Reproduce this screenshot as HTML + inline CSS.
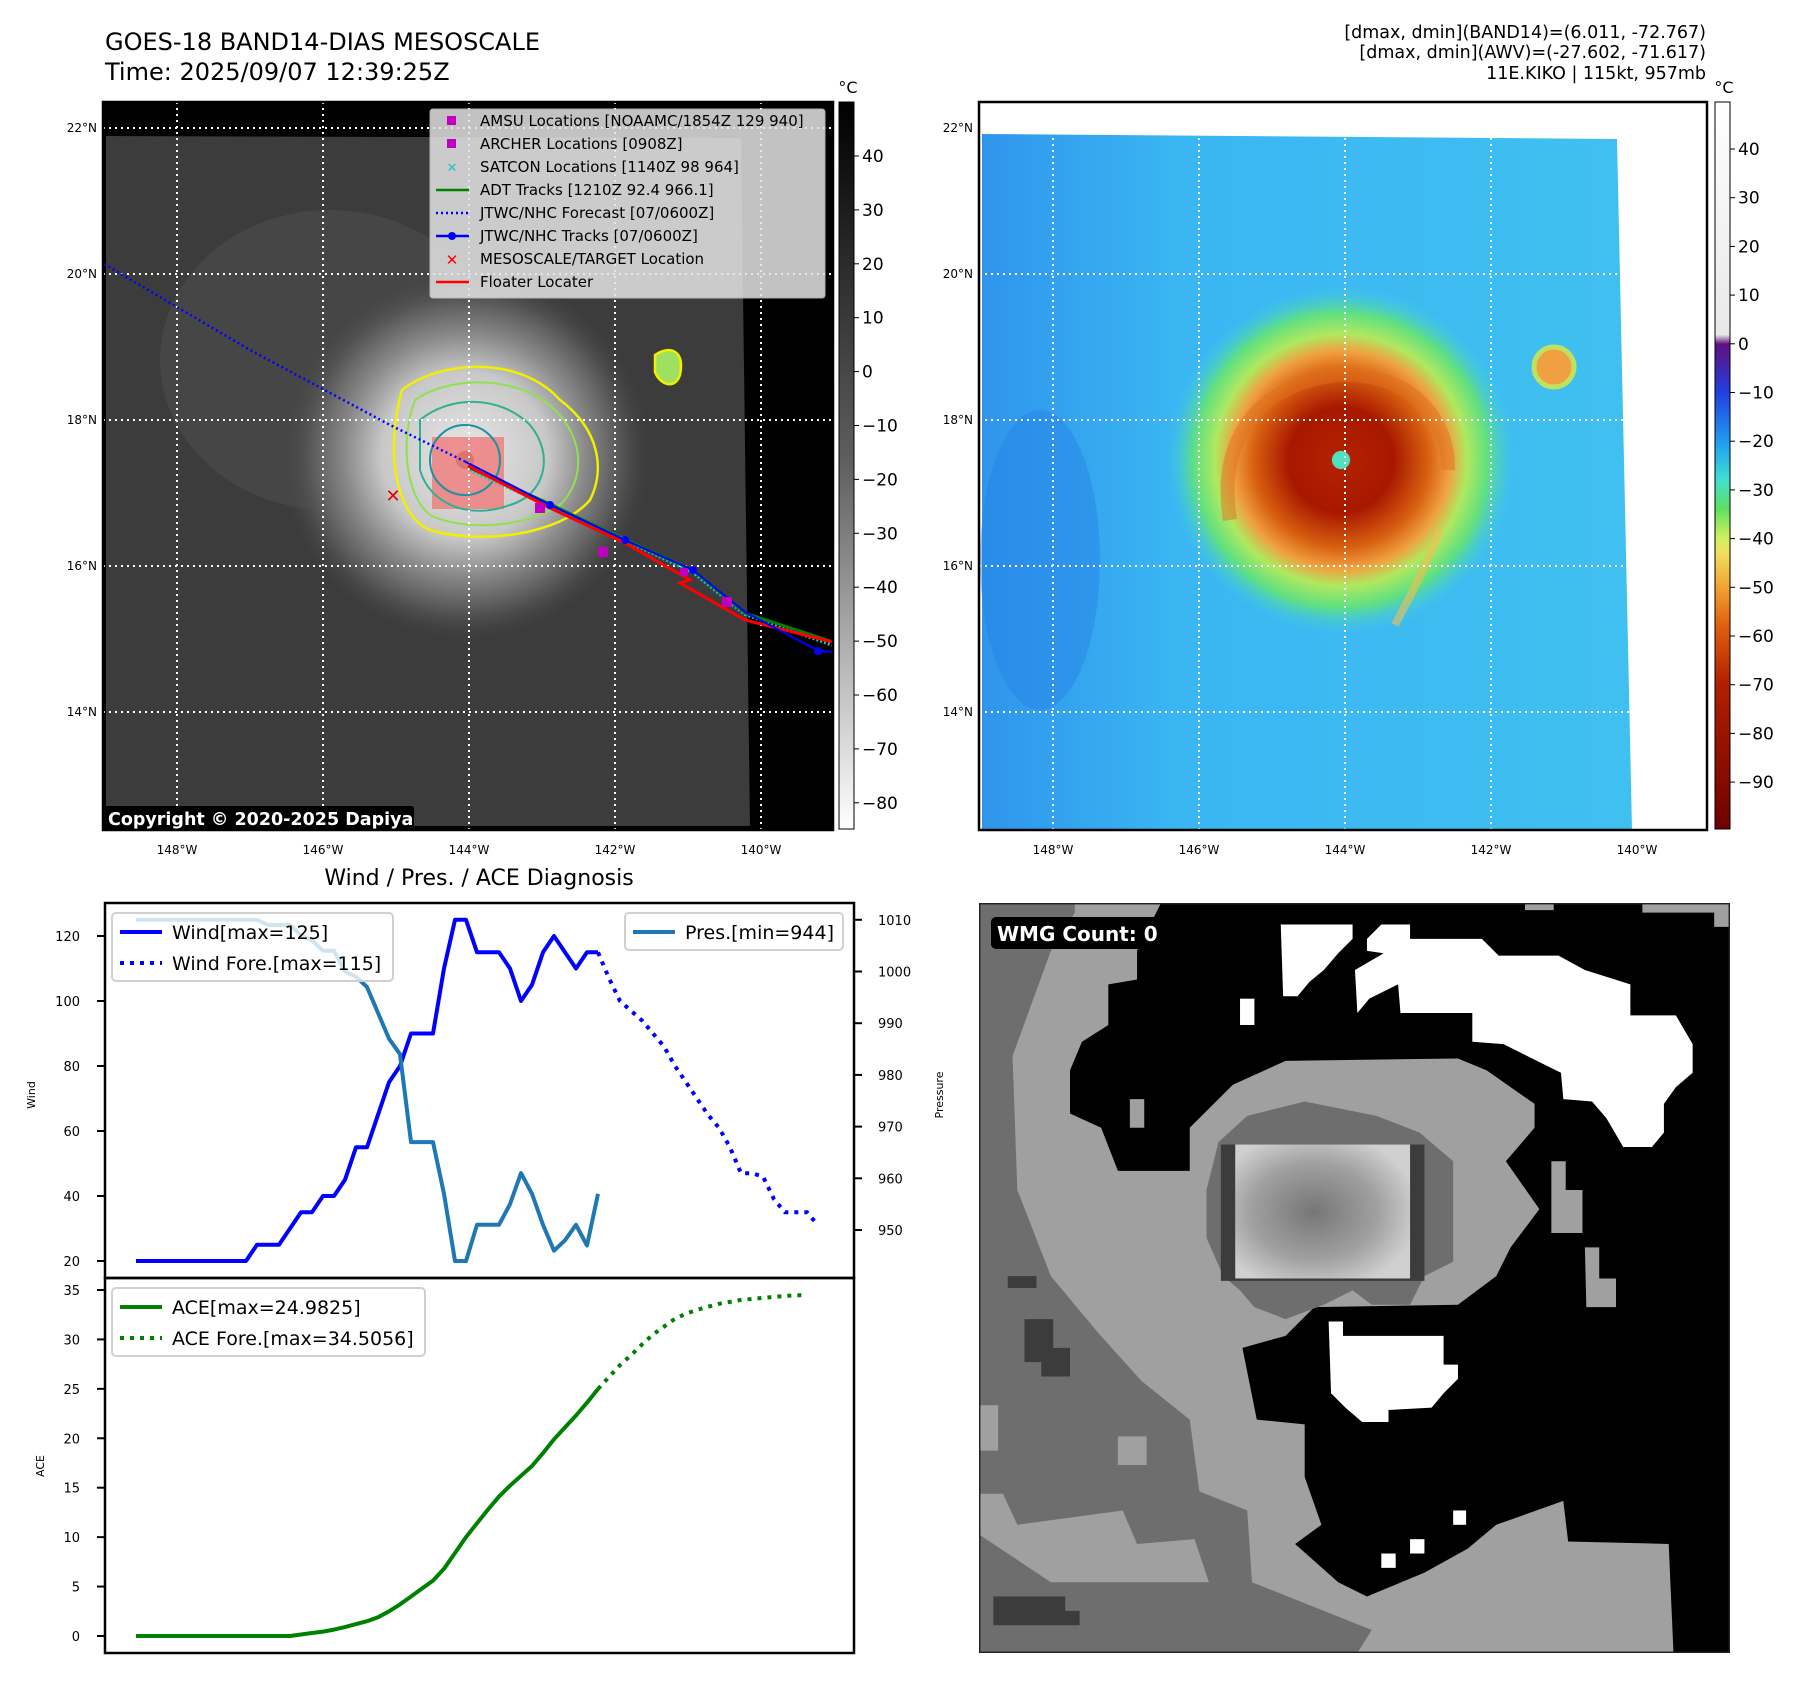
<!DOCTYPE html>
<html><head><meta charset="utf-8">
<style>
html,body{margin:0;padding:0;background:#fff;}
svg{display:block;font-family:"DejaVu Sans","Liberation Sans",sans-serif;}
</style></head>
<body>
<svg id="root" width="1797" height="1690" viewBox="0 0 1797 1690" xmlns="http://www.w3.org/2000/svg">
<defs>
  <radialGradient id="irStorm" cx="465" cy="455" r="185" gradientUnits="userSpaceOnUse">
    <stop offset="0" stop-color="#eeeeee"/>
    <stop offset="0.1" stop-color="#e0e0e0"/>
    <stop offset="0.45" stop-color="#c8c8c8"/>
    <stop offset="0.65" stop-color="#8a8a8a"/>
    <stop offset="0.85" stop-color="#555"/>
    <stop offset="1" stop-color="#444" stop-opacity="0"/>
  </radialGradient>
  <radialGradient id="awvStorm" cx="1341" cy="460" r="175" gradientUnits="userSpaceOnUse">
    <stop offset="0" stop-color="#50e0c0"/>
    <stop offset="0.06" stop-color="#b02000"/>
    <stop offset="0.3" stop-color="#a81800"/>
    <stop offset="0.5" stop-color="#d86010"/>
    <stop offset="0.62" stop-color="#f0a040"/>
    <stop offset="0.72" stop-color="#b0e860"/>
    <stop offset="0.84" stop-color="#60e080"/>
    <stop offset="1" stop-color="#40c8f0" stop-opacity="0"/>
  </radialGradient>
  <linearGradient id="awvBg" x1="0" y1="0" x2="1" y2="0">
    <stop offset="0" stop-color="#2f95ec"/>
    <stop offset="0.3" stop-color="#3ab6f2"/>
    <stop offset="1" stop-color="#40c0f0"/>
  </linearGradient>
  <linearGradient id="cbGray" x1="0" y1="0" x2="0" y2="1">
    <stop offset="0" stop-color="#000"/>
    <stop offset="0.5" stop-color="#606060"/>
    <stop offset="1" stop-color="#fff"/>
  </linearGradient>
  <linearGradient id="cbAwv" x1="0" y1="0" x2="0" y2="1">
    <stop offset="0" stop-color="#ffffff"/>
    <stop offset="0.32" stop-color="#e8e8e8"/>
    <stop offset="0.333" stop-color="#601080"/>
    <stop offset="0.4" stop-color="#2040e0"/>
    <stop offset="0.47" stop-color="#20a0f0"/>
    <stop offset="0.52" stop-color="#40e0d0"/>
    <stop offset="0.56" stop-color="#60e060"/>
    <stop offset="0.6" stop-color="#d0f060"/>
    <stop offset="0.62" stop-color="#f0e060"/>
    <stop offset="0.67" stop-color="#f0a030"/>
    <stop offset="0.72" stop-color="#e06010"/>
    <stop offset="0.8" stop-color="#b02000"/>
    <stop offset="1" stop-color="#700000"/>
  </linearGradient>
  <radialGradient id="wmgCore" cx="0.45" cy="0.5" r="0.6">
    <stop offset="0" stop-color="#767676"/>
    <stop offset="0.6" stop-color="#a0a0a0"/>
    <stop offset="1" stop-color="#d0d0d0"/>
  </radialGradient>
  <clipPath id="clipL"><rect x="103" y="102" width="730" height="728"/></clipPath>
  <clipPath id="clipR"><rect x="979" y="102" width="728" height="728"/></clipPath>
</defs>

<!-- titles -->
<text x="105" y="50" font-size="24">GOES-18 BAND14-DIAS MESOSCALE</text>
<text x="105" y="80" font-size="24">Time: 2025/09/07 12:39:25Z</text>
<g font-size="17.5" text-anchor="end">
  <text x="1706" y="38">[dmax, dmin](BAND14)=(6.011, -72.767)</text>
  <text x="1706" y="58">[dmax, dmin](AWV)=(-27.602, -71.617)</text>
  <text x="1706" y="79">11E.KIKO | 115kt, 957mb</text>
</g>

<!-- LEFT IR MAP -->
<g clip-path="url(#clipL)">
  <rect x="103" y="102" width="730" height="728" fill="#000"/>
  <polygon points="106,136 741,138 750,826 106,826" fill="#3c3c3c"/>
  <ellipse cx="330" cy="360" rx="170" ry="150" fill="#4c4c4c" opacity="0.6"/>
  <circle cx="465" cy="455" r="185" fill="url(#irStorm)"/>
  <circle cx="465" cy="460" r="9" fill="#7a3020"/>
  <rect x="432" y="437" width="72" height="72" fill="#f08080" opacity="0.85"/>
  <path d="M402,390 C440,360 520,355 560,400 C600,430 605,470 590,500 C560,535 480,545 430,530 C395,515 385,450 402,390 Z" fill="none" stroke="#f0f000" stroke-width="2.5"/>
  <path d="M415,400 C450,375 520,375 555,410 C585,440 585,480 560,505 C520,530 460,530 430,515 C405,495 400,440 415,400 Z" fill="none" stroke="#90e050" stroke-width="2" />
  <path d="M420,420 C450,395 500,395 530,425 C555,455 545,495 510,505 C470,520 430,505 420,470 Z" fill="none" stroke="#30b090" stroke-width="2"/>
  <circle cx="465" cy="460" r="35" fill="none" stroke="#2090a0" stroke-width="2"/>
  <path d="M655,355 C670,345 685,350 680,375 C675,390 660,385 655,372 Z" fill="#a0e060" stroke="#f0f000" stroke-width="2.5"/>
  <g stroke="#fff" stroke-width="2" stroke-dasharray="2,4">
    <line x1="177" y1="102" x2="177" y2="830"/><line x1="323" y1="102" x2="323" y2="830"/>
    <line x1="469" y1="102" x2="469" y2="830"/><line x1="615" y1="102" x2="615" y2="830"/>
    <line x1="761" y1="102" x2="761" y2="830"/>
    <line x1="103" y1="128" x2="833" y2="128"/><line x1="103" y1="274" x2="833" y2="274"/>
    <line x1="103" y1="420" x2="833" y2="420"/><line x1="103" y1="566" x2="833" y2="566"/>
    <line x1="103" y1="712" x2="833" y2="712"/>
  </g>
  <polyline points="104,264 250,350 390,425 464,461" fill="none" stroke="#0000ff" stroke-width="2.5" stroke-dasharray="2,3"/>
  <polyline points="470,470 550,506 625,540 693,572 745,614 833,645" fill="none" stroke="#20c0c0" stroke-width="4" stroke-dasharray="2,2"/>
  <polyline points="470,468 550,504 625,540 693,570 745,613 833,642" fill="none" stroke="#008000" stroke-width="3"/>
  <polyline points="468,466 550,508 625,543 690,580 680,583 745,620 833,642" fill="none" stroke="#ff0000" stroke-width="3"/>
  <polyline points="464,461 550,505 625,540 693,570 745,612 819,651 833,652" fill="none" stroke="#0000ff" stroke-width="2"/>
  <g fill="#0000ff"><circle cx="550" cy="505" r="4"/><circle cx="625" cy="540" r="4"/><circle cx="693" cy="570" r="4"/><circle cx="818" cy="651" r="4"/></g>
  <g fill="#c000c0"><rect x="598" y="547" width="10" height="10"/><rect x="535" y="503" width="10" height="10"/><rect x="722" y="597" width="10" height="10"/><rect x="680" y="568" width="8" height="8"/></g>
  <text x="393" y="502" fill="#e00000" font-size="18" font-weight="bold" text-anchor="middle">✕</text>
  <rect x="103" y="806" width="311" height="25" rx="3" fill="#000"/>
  <text x="108" y="825" fill="#fff" font-size="17.5" font-weight="bold">Copyright © 2020-2025 Dapiya</text>
</g>
<rect x="103" y="102" width="730" height="728" fill="none" stroke="#000" stroke-width="2.5"/>

<!-- IR legend -->
<g>
  <rect x="430" y="109" width="395" height="189" rx="3" fill="#e4e4e4" opacity="0.85" stroke="#ccc"/>
  <g font-size="15">
    <rect x="447" y="116" width="9" height="9" fill="#c000c0"/><text x="480" y="126">AMSU Locations [NOAAMC/1854Z 129 940]</text>
    <rect x="447" y="139" width="9" height="9" fill="#c000c0"/><text x="480" y="149">ARCHER Locations [0908Z]</text>
    <text x="452" y="172" fill="#20c0c0" font-size="13" font-weight="bold" text-anchor="middle">✕</text><text x="480" y="172">SATCON Locations [1140Z 98 964]</text>
    <line x1="436" y1="190" x2="469" y2="190" stroke="#008000" stroke-width="2.5"/><text x="480" y="195">ADT Tracks [1210Z 92.4 966.1]</text>
    <line x1="436" y1="213" x2="469" y2="213" stroke="#0000ff" stroke-width="2.5" stroke-dasharray="2,3"/><text x="480" y="218">JTWC/NHC Forecast [07/0600Z]</text>
    <line x1="436" y1="236" x2="469" y2="236" stroke="#0000ff" stroke-width="2.5"/><circle cx="452" cy="236" r="4" fill="#0000ff"/><text x="480" y="241">JTWC/NHC Tracks [07/0600Z]</text>
    <text x="452" y="265" fill="#ff0000" font-size="15" font-weight="bold" text-anchor="middle">✕</text><text x="480" y="264">MESOSCALE/TARGET Location</text>
    <line x1="436" y1="282" x2="469" y2="282" stroke="#ff0000" stroke-width="2.5"/><text x="480" y="287">Floater Locater</text>
  </g>
</g>

<!-- IR axis labels -->
<g font-size="12" text-anchor="end">
  <text x="97" y="132">22°N</text><text x="97" y="278">20°N</text><text x="97" y="424">18°N</text><text x="97" y="570">16°N</text><text x="97" y="716">14°N</text>
</g>
<g font-size="12" text-anchor="middle">
  <text x="177" y="854">148°W</text><text x="323" y="854">146°W</text><text x="469" y="854">144°W</text><text x="615" y="854">142°W</text><text x="761" y="854">140°W</text>
</g>
<g>
  <rect x="839" y="102" width="15" height="727" fill="url(#cbGray)" stroke="#000" stroke-width="1"/>
  <text x="848" y="93" font-size="16" text-anchor="middle">°C</text>
  <g font-size="17" id="cbLticks"></g>
</g>

<!-- RIGHT AWV MAP -->
<g clip-path="url(#clipR)">
  <rect x="979" y="102" width="728" height="728" fill="#fff"/>
  <polygon points="982,134 1617,139 1632,830 982,830" fill="url(#awvBg)"/>
  <ellipse cx="1040" cy="560" rx="60" ry="150" fill="#2580e6" opacity="0.45"/>
  <circle cx="1341" cy="460" r="175" fill="url(#awvStorm)"/>
  <path d="M1230,520 C1215,430 1270,380 1341,375 C1410,372 1450,420 1448,470" fill="none" stroke="#e07020" stroke-width="14" opacity="0.5"/>
  <path d="M1440,530 C1420,580 1405,605 1395,625" fill="none" stroke="#f0c050" stroke-width="8" opacity="0.6"/>
  <circle cx="1341" cy="460" r="9" fill="#50e0c0"/>
  <ellipse cx="1554" cy="367" rx="20" ry="20" fill="#f0a040" stroke="#c0e060" stroke-width="5"/>
  <g stroke="#fff" stroke-width="2" stroke-dasharray="2,4">
    <line x1="1053" y1="102" x2="1053" y2="830"/><line x1="1199" y1="102" x2="1199" y2="830"/>
    <line x1="1345" y1="102" x2="1345" y2="830"/><line x1="1491" y1="102" x2="1491" y2="830"/>
    <line x1="1637" y1="102" x2="1637" y2="830"/>
    <line x1="979" y1="128" x2="1707" y2="128"/><line x1="979" y1="274" x2="1707" y2="274"/>
    <line x1="979" y1="420" x2="1707" y2="420"/><line x1="979" y1="566" x2="1707" y2="566"/>
    <line x1="979" y1="712" x2="1707" y2="712"/>
  </g>
</g>
<rect x="979" y="102" width="728" height="728" fill="none" stroke="#000" stroke-width="2.5"/>
<g font-size="12" text-anchor="end">
  <text x="973" y="132">22°N</text><text x="973" y="278">20°N</text><text x="973" y="424">18°N</text><text x="973" y="570">16°N</text><text x="973" y="716">14°N</text>
</g>
<g font-size="12" text-anchor="middle">
  <text x="1053" y="854">148°W</text><text x="1199" y="854">146°W</text><text x="1345" y="854">144°W</text><text x="1491" y="854">142°W</text><text x="1637" y="854">140°W</text>
</g>
<g>
  <rect x="1715" y="102" width="15" height="727" fill="url(#cbAwv)" stroke="#000" stroke-width="1"/>
  <text x="1724" y="93" font-size="16" text-anchor="middle">°C</text>
  <g font-size="17" id="cbRticks"></g>
</g>

<!-- CHART -->
<text x="479" y="885" font-size="22" text-anchor="middle">Wind / Pres. / ACE Diagnosis</text>
<g id="chart"></g>

<!-- WMG -->
<g>
  <svg x="979" y="903" width="751" height="750" viewBox="0 0 1568 1568" preserveAspectRatio="none">
    <rect width="1568" height="1568" fill="#a0a0a0"/>
    <polygon points="0,0 200,0 200,20 150,100 70,320 80,600 150,780 250,900 340,1000 440,1080 460,1230 560,1270 570,1420 820,1520 790,1568 0,1568" fill="#6e6e6e"/>
    <polygon points="0,1050 40,1050 40,1145 0,1145" fill="#a0a0a0"/>
    <polygon points="290,1115 350,1115 350,1175 290,1175" fill="#a0a0a0"/>
    <polygon points="0,1235 50,1235 80,1300 300,1270 330,1340 450,1330 480,1420 270,1420 150,1420 60,1360 0,1320" fill="#a0a0a0"/>
    <polygon points="60,780 120,780 120,805 60,805" fill="#3c3c3c"/>
    <polygon points="95,870 155,870 155,930 190,930 190,990 130,990 130,960 95,960" fill="#3c3c3c"/>
    <polygon points="30,1450 180,1450 180,1480 210,1480 210,1510 30,1510" fill="#3c3c3c"/>
    <polygon points="380,0 1568,0 1568,1568 1450,1568 1440,1340 1230,1335 1220,1250 1080,1300 1020,1350 930,1400 810,1450 750,1420 660,1340 715,1300 680,1200 680,1090 580,1080 550,930 640,905 700,845 1000,840 1080,780 1110,720 1170,640 1100,540 1160,470 1160,420 1060,350 1000,325 640,330 530,380 440,470 440,560 290,560 255,470 190,440 190,350 215,290 270,255 270,170 330,160 330,100" fill="#000"/>
    <polygon points="1140,0 1200,0 1200,15 1140,15" fill="#a0a0a0"/>
    <polygon points="1385,0 1568,0 1568,50 1535,50 1535,20 1385,20" fill="#a0a0a0"/>
    <polygon points="1195,540 1225,540 1225,600 1260,600 1260,690 1195,690" fill="#a0a0a0"/>
    <polygon points="1265,720 1295,720 1295,785 1330,785 1330,845 1268,845" fill="#a0a0a0"/>
    <polygon points="315,410 345,410 345,470 315,470" fill="#a0a0a0"/>
    <g fill="#fff">
      <polygon points="630,45 780,45 780,75 750,105 720,140 690,165 665,195 635,195"/>
      <polygon points="810,75 840,45 900,45 900,75 1050,75 1085,110 1210,110 1265,140 1360,170 1360,235 1455,235 1490,295 1490,355 1455,385 1430,420 1430,480 1405,510 1345,510 1310,450 1280,415 1220,410 1215,355 1155,325 1095,295 1030,290 1030,230 880,230 875,170 815,200 790,230 785,140 845,105 810,100"/>
      <rect x="545" y="200" width="30" height="55"/>
      <polygon points="730,875 760,875 760,905 970,905 970,965 1000,965 1000,995 970,1025 945,1055 855,1060 855,1085 800,1085 765,1055 735,1025"/>
      <rect x="990" y="1270" width="27" height="30"/><rect x="900" y="1330" width="30" height="30"/><rect x="840" y="1360" width="30" height="30"/>
    </g>
    <polygon points="500,500 560,445 680,415 830,445 920,480 990,540 990,750 930,780 900,840 820,840 780,810 720,840 640,870 575,845 545,810 510,780 475,700 475,600" fill="#6e6e6e"/>
    <rect x="520" y="520" width="395" height="255" fill="none" stroke="#3c3c3c" stroke-width="30"/>
    <rect x="535" y="505" width="365" height="280" fill="url(#wmgCore)"/>
    <rect x="0" y="0" width="1568" height="1568" fill="none" stroke="#222" stroke-width="6"/>
  </svg>
  <rect x="991" y="917" width="182" height="32" rx="5" fill="#000"/>
  <text x="997" y="941" fill="#fff" font-size="20" font-weight="bold">WMG Count: 0</text>
</g>

<script>
// ---- chart data ----
const windObs = [20,20,20,20,20,20,20,20,20,20,20,25,25,25,30,35,35,40,40,45,55,55,65,75,80,90,90,90,110,125,125,115,115,115,110,100,105,115,120,115,110,115,115];
const presObs = [1010,1010,1010,1010,1010,1010,1010,1010,1010,1010,1010,1010,1009,1009,1009,1007,1006,1004,1004,1000,999,997,992,987,984,967,967,967,957,944,944,951,951,951,955,961,957,951,946,948,951,947,957];
const windFore = [115,107,100,97,94,90,86,80,75,70,65,61,55,47,47,46,39,35,35,35,31];
const aceObs = [0,0,0,0,0,0,0,0,0,0,0,0,0,0,0,0.15,0.3,0.45,0.65,0.9,1.2,1.5,1.9,2.5,3.2,4.0,4.8,5.6,6.8,8.4,10.0,11.4,12.8,14.1,15.2,16.2,17.2,18.5,19.9,21.1,22.3,23.6,24.98];
const aceFore = [24.98,26.2,27.4,28.4,29.5,30.5,31.3,32.1,32.6,33.0,33.3,33.6,33.8,34.0,34.1,34.2,34.3,34.4,34.45,34.5];
const windTicks = [20,40,60,80,100,120];
const presTicks = [950,960,970,980,990,1000,1010];
const aceTicks = [0,5,10,15,20,25,30,35];
const cbLTicks = [40,30,20,10,0,-10,-20,-30,-40,-50,-60,-70,-80];
const cbRTicks = [40,30,20,10,0,-10,-20,-30,-40,-50,-60,-70,-80,-90];

const NS = 'http://www.w3.org/2000/svg';
function mk(tag, attrs, parent){const e=document.createElementNS(NS,tag);for(const k in attrs)e.setAttribute(k,attrs[k]);parent.appendChild(e);return e;}
const fx = i => 136 + i*11.0;
const fyW = v => 1261 - (v-20)*3.25;
const fyP = v => 1230 - (v-950)*5.17;
const fyA = v => 1636 - v*9.886;

const ch = document.getElementById('chart');
function pts(arr, fy, off){return arr.map((v,i)=>fx(i+off).toFixed(1)+','+fy(v).toFixed(1)).join(' ');}

const f1 = mk('rect',{x:105,y:903,width:749,height:375,fill:'none',stroke:'#000','stroke-width':2.5},ch);


const f2 = mk('rect',{x:105,y:1278,width:749,height:375,fill:'none',stroke:'#000','stroke-width':2.5},ch);



windTicks.forEach(v=>{const y=fyW(v);mk('line',{x1:97,y1:y,x2:105,y2:y,stroke:'#000','stroke-width':2},ch);
  const t=mk('text',{x:80,y:y+5,'font-size':13,'text-anchor':'end'},ch);t.textContent=v;
  
  });
presTicks.forEach(v=>{const y=fyP(v);mk('line',{x1:854,y1:y,x2:862,y2:y,stroke:'#000','stroke-width':2},ch);
  const t=mk('text',{x:878,y:y+5,'font-size':13},ch);t.textContent=v;
  
  });
aceTicks.forEach(v=>{const y=fyA(v);mk('line',{x1:97,y1:y,x2:105,y2:y,stroke:'#000','stroke-width':2},ch);
  const t=mk('text',{x:80,y:y+5,'font-size':13,'text-anchor':'end'},ch);t.textContent=v;
  
  });

const yt1=mk('text',{x:0,y:0,'font-size':11,'text-anchor':'middle',transform:'translate(35,1095) rotate(-90)'},ch);yt1.textContent='Wind';


const yt2=mk('text',{x:0,y:0,'font-size':11,'text-anchor':'middle',transform:'translate(943,1095) rotate(-90)'},ch);yt2.textContent='Pressure';


const yt3=mk('text',{x:0,y:0,'font-size':11,'text-anchor':'middle',transform:'translate(44,1466) rotate(-90)'},ch);yt3.textContent='ACE';



const lw=mk('polyline',{points:pts(windObs,fyW,0),fill:'none',stroke:'#0000ff','stroke-width':4,'stroke-linejoin':'round'},ch);


const lwf=mk('polyline',{points:pts(windFore,fyW,42),fill:'none',stroke:'#0000ff','stroke-width':4,'stroke-dasharray':'4,6'},ch);


const lp=mk('polyline',{points:pts(presObs,fyP,0),fill:'none',stroke:'#1f77b4','stroke-width':4,'stroke-linejoin':'round'},ch);


const la=mk('polyline',{points:pts(aceObs,fyA,0),fill:'none',stroke:'#008000','stroke-width':4,'stroke-linejoin':'round'},ch);


const laf=mk('polyline',{points:pts(aceFore,fyA,42),fill:'none',stroke:'#008000','stroke-width':4,'stroke-dasharray':'4,6'},ch);



function legend(x,y,w,rows,name){
  const g=mk('g',{},ch);
  
  
  mk('rect',{x:x,y:y,width:w,height:rows.length*31+6,rx:4,fill:'#fff','fill-opacity':0.8,stroke:'#d0d0d0','stroke-width':2},g);
  rows.forEach((r,i)=>{const cy=y+19+i*31;
    mk('line',{x1:x+8,y1:cy,x2:x+50,y2:cy,stroke:r[1],'stroke-width':4,'stroke-dasharray':r[2]?'4,6':'none'},g);
    const t=mk('text',{x:x+60,y:cy+7,'font-size':19},g);t.textContent=r[0];});
}
legend(112,913,281,[['Wind[max=125]','#0000ff',0],['Wind Fore.[max=115]','#0000ff',1]],'wind-legend');
legend(625,913,218,[['Pres.[min=944]','#1f77b4',0]],'pressure-legend');
legend(112,1288,313,[['ACE[max=24.9825]','#008000',0],['ACE Fore.[max=34.5056]','#008000',1]],'ace-legend');

const cbL=document.getElementById('cbLticks');
cbLTicks.forEach(v=>{const y=156+(40-v)*5.39;mk('line',{x1:854,y1:y,x2:859,y2:y,stroke:'#000'},cbL);
  const t=mk('text',{x:862,y:y+6},cbL);t.textContent=(v<0?'\u2212'+(-v):v);
  
  });
const cbR=document.getElementById('cbRticks');
cbRTicks.forEach(v=>{const y=149+(40-v)*4.87;mk('line',{x1:1730,y1:y,x2:1735,y2:y,stroke:'#000'},cbR);
  const t=mk('text',{x:1738,y:y+6},cbR);t.textContent=(v<0?'\u2212'+(-v):v);
  
  });
</script>
</svg>
</body></html>
